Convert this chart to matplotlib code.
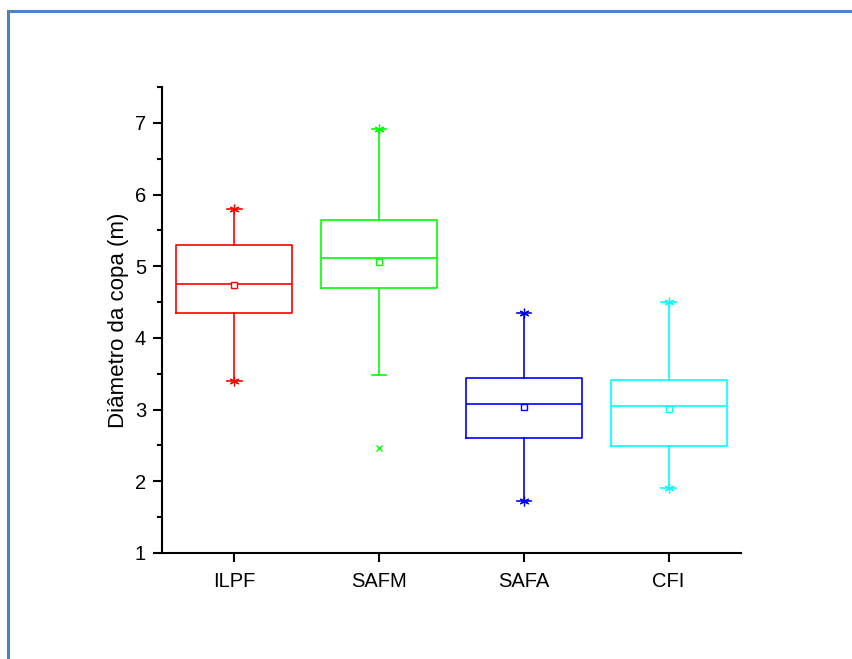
import matplotlib
matplotlib.use("Agg")
import matplotlib.pyplot as plt
from matplotlib.patches import Rectangle
from matplotlib.ticker import MultipleLocator

plt.rcParams['font.family'] = ['Liberation Sans', 'DejaVu Sans']

categories = ["ILPF", "SAFM", "SAFA", "CFI"]
colors = ["#FF0000", "#00FF00", "#0000FF", "#00FFFF"]
q1 = [4.35, 4.70, 2.60, 2.49]
med = [4.75, 5.12, 3.08, 3.05]
q3 = [5.30, 5.65, 3.44, 3.42]
means = [4.74, 5.06, 3.03, 3.01]
whislo = [3.40, 3.48, 1.73, 1.91]
whishi = [5.80, 6.92, 4.35, 4.50]
max_vals = [5.80, 6.92, 4.35, 4.50]
min_vals = [3.40, None, 1.73, 1.91]
outliers = [[], [2.47], [], []]

fig = plt.figure(figsize=(8.53, 6.59), dpi=100)
fig.patches.append(Rectangle((8 / 853, -0.05), 1.0, (659 - 11) / 659 + 0.05,
                             transform=fig.transFigure, fill=False,
                             edgecolor="#4F81BD", linewidth=2.2))

ax = fig.add_axes([162 / 853, 106 / 659, (741 - 162) / 853, (553 - 87) / 659])

positions = list(range(1, len(categories) + 1))
for i, c in enumerate(colors):
    stats = [dict(med=med[i], q1=q1[i], q3=q3[i], whislo=whislo[i], whishi=whishi[i],
                  mean=means[i], fliers=[])]
    ax.bxp(stats, positions=[positions[i]], widths=0.8, capwidths=0.1,
           showmeans=True, showfliers=False, manage_ticks=False,
           boxprops=dict(color=c, linewidth=1.2),
           medianprops=dict(color=c, linewidth=1.2),
           whiskerprops=dict(color=c, linewidth=1.2),
           capprops=dict(color=c, linewidth=1.2),
           meanprops=dict(marker='s', markerfacecolor='white', markeredgecolor=c,
                          markersize=4.5, markeredgewidth=1.0))
    ax.plot([positions[i]], [max_vals[i]], linestyle='none', marker=(6, 2, 0),
            color=c, markersize=7, markeredgewidth=0.9)
    if min_vals[i] is not None:
        ax.plot([positions[i]], [min_vals[i]], linestyle='none', marker=(6, 2, 0),
                color=c, markersize=7, markeredgewidth=0.9)
    if outliers[i]:
        ax.plot([positions[i]] * len(outliers[i]), outliers[i], linestyle='none',
                marker='x', color=c, markersize=4.5, markeredgewidth=1.0)

ax.set_xlim(0.5, 4.5)
ax.set_ylim(1, 7.5)
ax.set_xticks(positions)
ax.set_xticklabels(categories)
ax.yaxis.set_major_locator(MultipleLocator(1))
ax.yaxis.set_minor_locator(MultipleLocator(0.5))
ax.spines['top'].set_visible(False)
ax.spines['right'].set_visible(False)
for s in ('left', 'bottom'):
    ax.spines[s].set_linewidth(1.5)
ax.tick_params(axis='both', which='major', direction='out', length=6.5, width=1.5,
               labelsize=14.5, pad=5)
ax.tick_params(axis='x', which='major', pad=7)
ax.tick_params(axis='y', which='minor', direction='out', length=3.5, width=1.5)
ax.set_ylabel("Diâmetro da copa (m)", fontsize=16, labelpad=4)

fig.savefig("out.png", dpi=100)
